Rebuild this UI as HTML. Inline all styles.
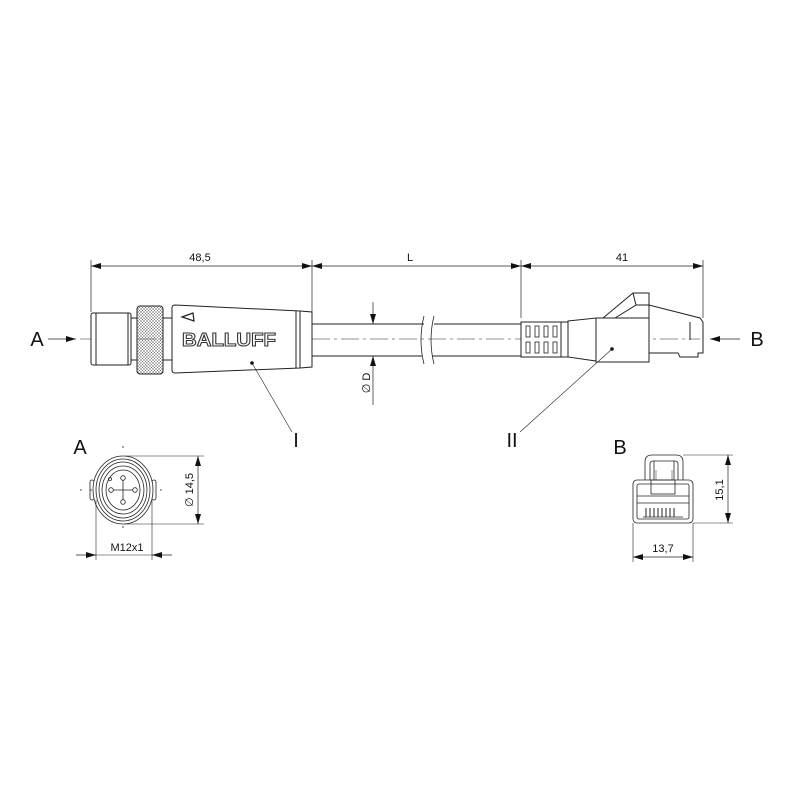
<!DOCTYPE html>
<html><head><meta charset="utf-8"><style>html,body{margin:0;padding:0;background:#fff}svg{display:block}</style></head>
<body>
<svg width="800" height="800" viewBox="0 0 800 800" xmlns="http://www.w3.org/2000/svg" font-family="Liberation Sans, sans-serif">
<defs>
<marker id="ar" viewBox="0 0 10 6" refX="10" refY="3" markerWidth="10" markerHeight="6" orient="auto-start-reverse" markerUnits="userSpaceOnUse"><path d="M0,0 L10,3 L0,6 Z" fill="#111"/></marker>
<pattern id="kn" width="3" height="3" patternUnits="userSpaceOnUse"><path d="M0,0 L3,3 M3,0 L0,3" stroke="#666" stroke-width="0.45"/></pattern>
</defs>
<g stroke="#222" stroke-width="1" fill="none">
<line x1="91" y1="260" x2="91" y2="312" stroke-width="0.7"/>
<line x1="312" y1="260" x2="312" y2="312" stroke-width="0.7"/>
<line x1="521" y1="260" x2="521" y2="318" stroke-width="0.7"/>
<line x1="703" y1="260" x2="703" y2="318" stroke-width="0.7"/>
<line x1="91" y1="266" x2="312" y2="266" stroke-width="0.7" marker-start="url(#ar)" marker-end="url(#ar)"/>
<line x1="312" y1="266" x2="521" y2="266" stroke-width="0.7" marker-start="url(#ar)" marker-end="url(#ar)"/>
<line x1="521" y1="266" x2="703" y2="266" stroke-width="0.7" marker-start="url(#ar)" marker-end="url(#ar)"/>
<line x1="80" y1="339" x2="700" y2="339" stroke-width="0.6" stroke-dasharray="18,4,3,4"/>
<line x1="48" y1="339" x2="76" y2="339" stroke-width="0.7" marker-end="url(#ar)"/>
<line x1="740" y1="339" x2="710" y2="339" stroke-width="0.7" marker-end="url(#ar)"/>
<rect x="91" y="313" width="40" height="52" rx="2" fill="#fff"/>
<line x1="96" y1="313" x2="96" y2="365"/>
<line x1="128" y1="313" x2="128" y2="365"/>
<rect x="131" y="318" width="6" height="42" fill="#fff"/>
<rect x="137" y="306" width="26" height="68" rx="3" fill="url(#kn)"/>
<rect x="163" y="318" width="9" height="42" fill="#fff"/>
<path d="M175,305 L300,311 L312,312 L312,367 L300,368 L175,373 Q172,373 172,370 L172,308 Q172,305 175,305 Z" fill="#fff"/>
<line x1="296" y1="311" x2="296" y2="368"/>
<line x1="300" y1="311" x2="300" y2="368"/>
<path d="M182,317 L193,313 L194,321 Z" stroke-width="1.2"/>
<line x1="312" y1="324" x2="424" y2="324"/>
<line x1="312" y1="356" x2="422" y2="356"/>
<line x1="434" y1="324" x2="521" y2="324"/>
<line x1="432" y1="356" x2="521" y2="356"/>
<path d="M424,316 Q418,340 424,364 M434,316 Q428,340 434,364" stroke-width="0.8"/>
<line x1="373" y1="302" x2="373" y2="324" stroke-width="0.7" marker-end="url(#ar)"/>
<line x1="373" y1="405" x2="373" y2="356" stroke-width="0.7" marker-end="url(#ar)"/>
<rect x="521" y="322" width="47" height="35" fill="#fff"/>
<g stroke-width="0.8">
<rect x="526" y="326" width="4" height="11"/><rect x="535" y="326" width="4" height="11"/><rect x="544" y="326" width="4" height="11"/><rect x="553" y="326" width="4" height="11"/>
<rect x="526" y="342" width="4" height="11"/><rect x="535" y="342" width="4" height="11"/><rect x="544" y="342" width="4" height="11"/><rect x="553" y="342" width="4" height="11"/>
</g>
<rect x="561" y="322" width="7" height="35"/>
<path d="M568,321 L596,318 L596,361 L568,357 Z" fill="#fff"/>
<rect x="596" y="318" width="53" height="44" fill="#fff"/>
<path d="M603,318 L633,293 L649,293 L649,318 M633,293 L636,305 L649,305 M615,318 L636,305"/>
<path d="M649,322 L649,305 L700,318 L703,322 L703,353 L698,353 L698,357 L680,357 L678,353 L649,353"/>
<line x1="690" y1="322" x2="690" y2="340"/>
<line x1="252" y1="363" x2="292" y2="432" stroke-width="0.6"/>
<line x1="612" y1="349" x2="520" y2="432" stroke-width="0.6"/>
</g>
<circle cx="252" cy="363" r="1.8" fill="#111"/>
<circle cx="612" cy="349" r="1.8" fill="#111"/>
<text x="229" y="346" font-size="18" font-weight="bold" fill="#fff" stroke="#333" stroke-width="1" text-anchor="middle" textLength="94" lengthAdjust="spacingAndGlyphs">BALLUFF</text>
<g fill="#111">
<text x="200" y="261" font-size="11" text-anchor="middle">48,5</text>
<text x="410" y="261" font-size="11" text-anchor="middle">L</text>
<text x="622" y="261" font-size="11" text-anchor="middle">41</text>
<text x="37" y="346" font-size="20" text-anchor="middle">A</text>
<text x="757" y="346" font-size="20" text-anchor="middle">B</text>
<text x="296" y="447" font-size="20" text-anchor="middle">I</text>
<text x="512" y="447" font-size="20" text-anchor="middle">II</text>
<text x="80" y="454" font-size="20" text-anchor="middle">A</text>
<text x="620" y="454" font-size="20" text-anchor="middle">B</text>
<text transform="translate(370,383) rotate(-90)" font-size="11" text-anchor="middle">∅ D</text>
<text transform="translate(193,490) rotate(-90)" font-size="11" text-anchor="middle">∅ 14,5</text>
<text x="127" y="551" font-size="11" text-anchor="middle">M12x1</text>
<text transform="translate(723,490) rotate(-90)" font-size="11" text-anchor="middle">15,1</text>
<text x="663" y="552" font-size="11" text-anchor="middle">13,7</text>
</g>
<g stroke="#222" fill="none" stroke-width="0.8">
<line x1="123" y1="446" x2="123" y2="534" stroke-dasharray="2,8"/>
<line x1="80" y1="490" x2="170" y2="490" stroke-dasharray="2,8"/>
<rect x="90" y="480" width="4" height="20" rx="2"/>
<rect x="152" y="480" width="4" height="20" rx="2"/>
<ellipse cx="123" cy="490" rx="30" ry="34" fill="#fff"/>
<ellipse cx="123" cy="490" rx="27" ry="31"/>
<ellipse cx="123" cy="490" rx="24" ry="28"/>
<ellipse cx="123" cy="490" rx="21" ry="24"/>
<ellipse cx="123" cy="490" rx="17" ry="20"/>
<line x1="111" y1="490" x2="135" y2="490"/>
<line x1="123" y1="478" x2="123" y2="502"/>
<circle cx="111" cy="490" r="2.3" fill="#fff"/><circle cx="135" cy="490" r="2.3" fill="#fff"/>
<circle cx="123" cy="478" r="2.3" fill="#fff"/><circle cx="123" cy="502" r="2.3" fill="#fff"/>
<circle cx="110" cy="479" r="1.5"/>
<line x1="125" y1="456" x2="204" y2="456" stroke-width="0.6"/>
<line x1="125" y1="524" x2="204" y2="524" stroke-width="0.6"/>
<line x1="198" y1="456" x2="198" y2="524" stroke-width="0.7" marker-start="url(#ar)" marker-end="url(#ar)"/>
<line x1="96" y1="500" x2="96" y2="560" stroke-width="0.6"/>
<line x1="152" y1="500" x2="152" y2="560" stroke-width="0.6"/>
<line x1="76" y1="555" x2="96" y2="555" stroke-width="0.7" marker-end="url(#ar)"/>
<line x1="172" y1="555" x2="152" y2="555" stroke-width="0.7" marker-end="url(#ar)"/>
<line x1="96" y1="555" x2="152" y2="555" stroke-width="0.6"/>
</g>
<g stroke="#222" fill="none" stroke-width="0.8">
<path d="M645,480 L645,462 Q645,455 652,455 L676,455 Q683,455 683,462 L683,480"/>
<path d="M650,480 L650,464 Q650,461 653,461 L675,461 Q678,461 678,464 L678,480"/>
<path d="M654,461 L654,480 M674,461 L674,480"/>
<path d="M656,470 L656,480 M672,470 L672,480" stroke-width="0.5"/>
<rect x="633" y="480" width="60" height="43" rx="4" fill="#fff"/>
<rect x="637" y="484" width="52" height="35" rx="2"/>
<rect x="651" y="480" width="24" height="14"/>
<line x1="637" y1="496" x2="689" y2="496"/>
<line x1="637" y1="503" x2="689" y2="503"/>
<g stroke-width="1">
<line x1="646" y1="508" x2="646" y2="517"/><line x1="650" y1="508" x2="650" y2="517"/><line x1="654" y1="508" x2="654" y2="517"/><line x1="658" y1="508" x2="658" y2="517"/><line x1="662" y1="508" x2="662" y2="517"/><line x1="666" y1="508" x2="666" y2="517"/><line x1="670" y1="508" x2="670" y2="517"/><line x1="674" y1="508" x2="674" y2="517"/>
</g>
<line x1="643" y1="517" x2="683" y2="517"/>
<line x1="683" y1="455" x2="733" y2="455" stroke-width="0.6"/>
<line x1="693" y1="523" x2="733" y2="523" stroke-width="0.6"/>
<line x1="728" y1="455" x2="728" y2="523" stroke-width="0.7" marker-start="url(#ar)" marker-end="url(#ar)"/>
<line x1="633" y1="523" x2="633" y2="562" stroke-width="0.6"/>
<line x1="693" y1="523" x2="693" y2="562" stroke-width="0.6"/>
<line x1="633" y1="557" x2="693" y2="557" stroke-width="0.7" marker-start="url(#ar)" marker-end="url(#ar)"/>
</g>
</svg>
</body></html>
